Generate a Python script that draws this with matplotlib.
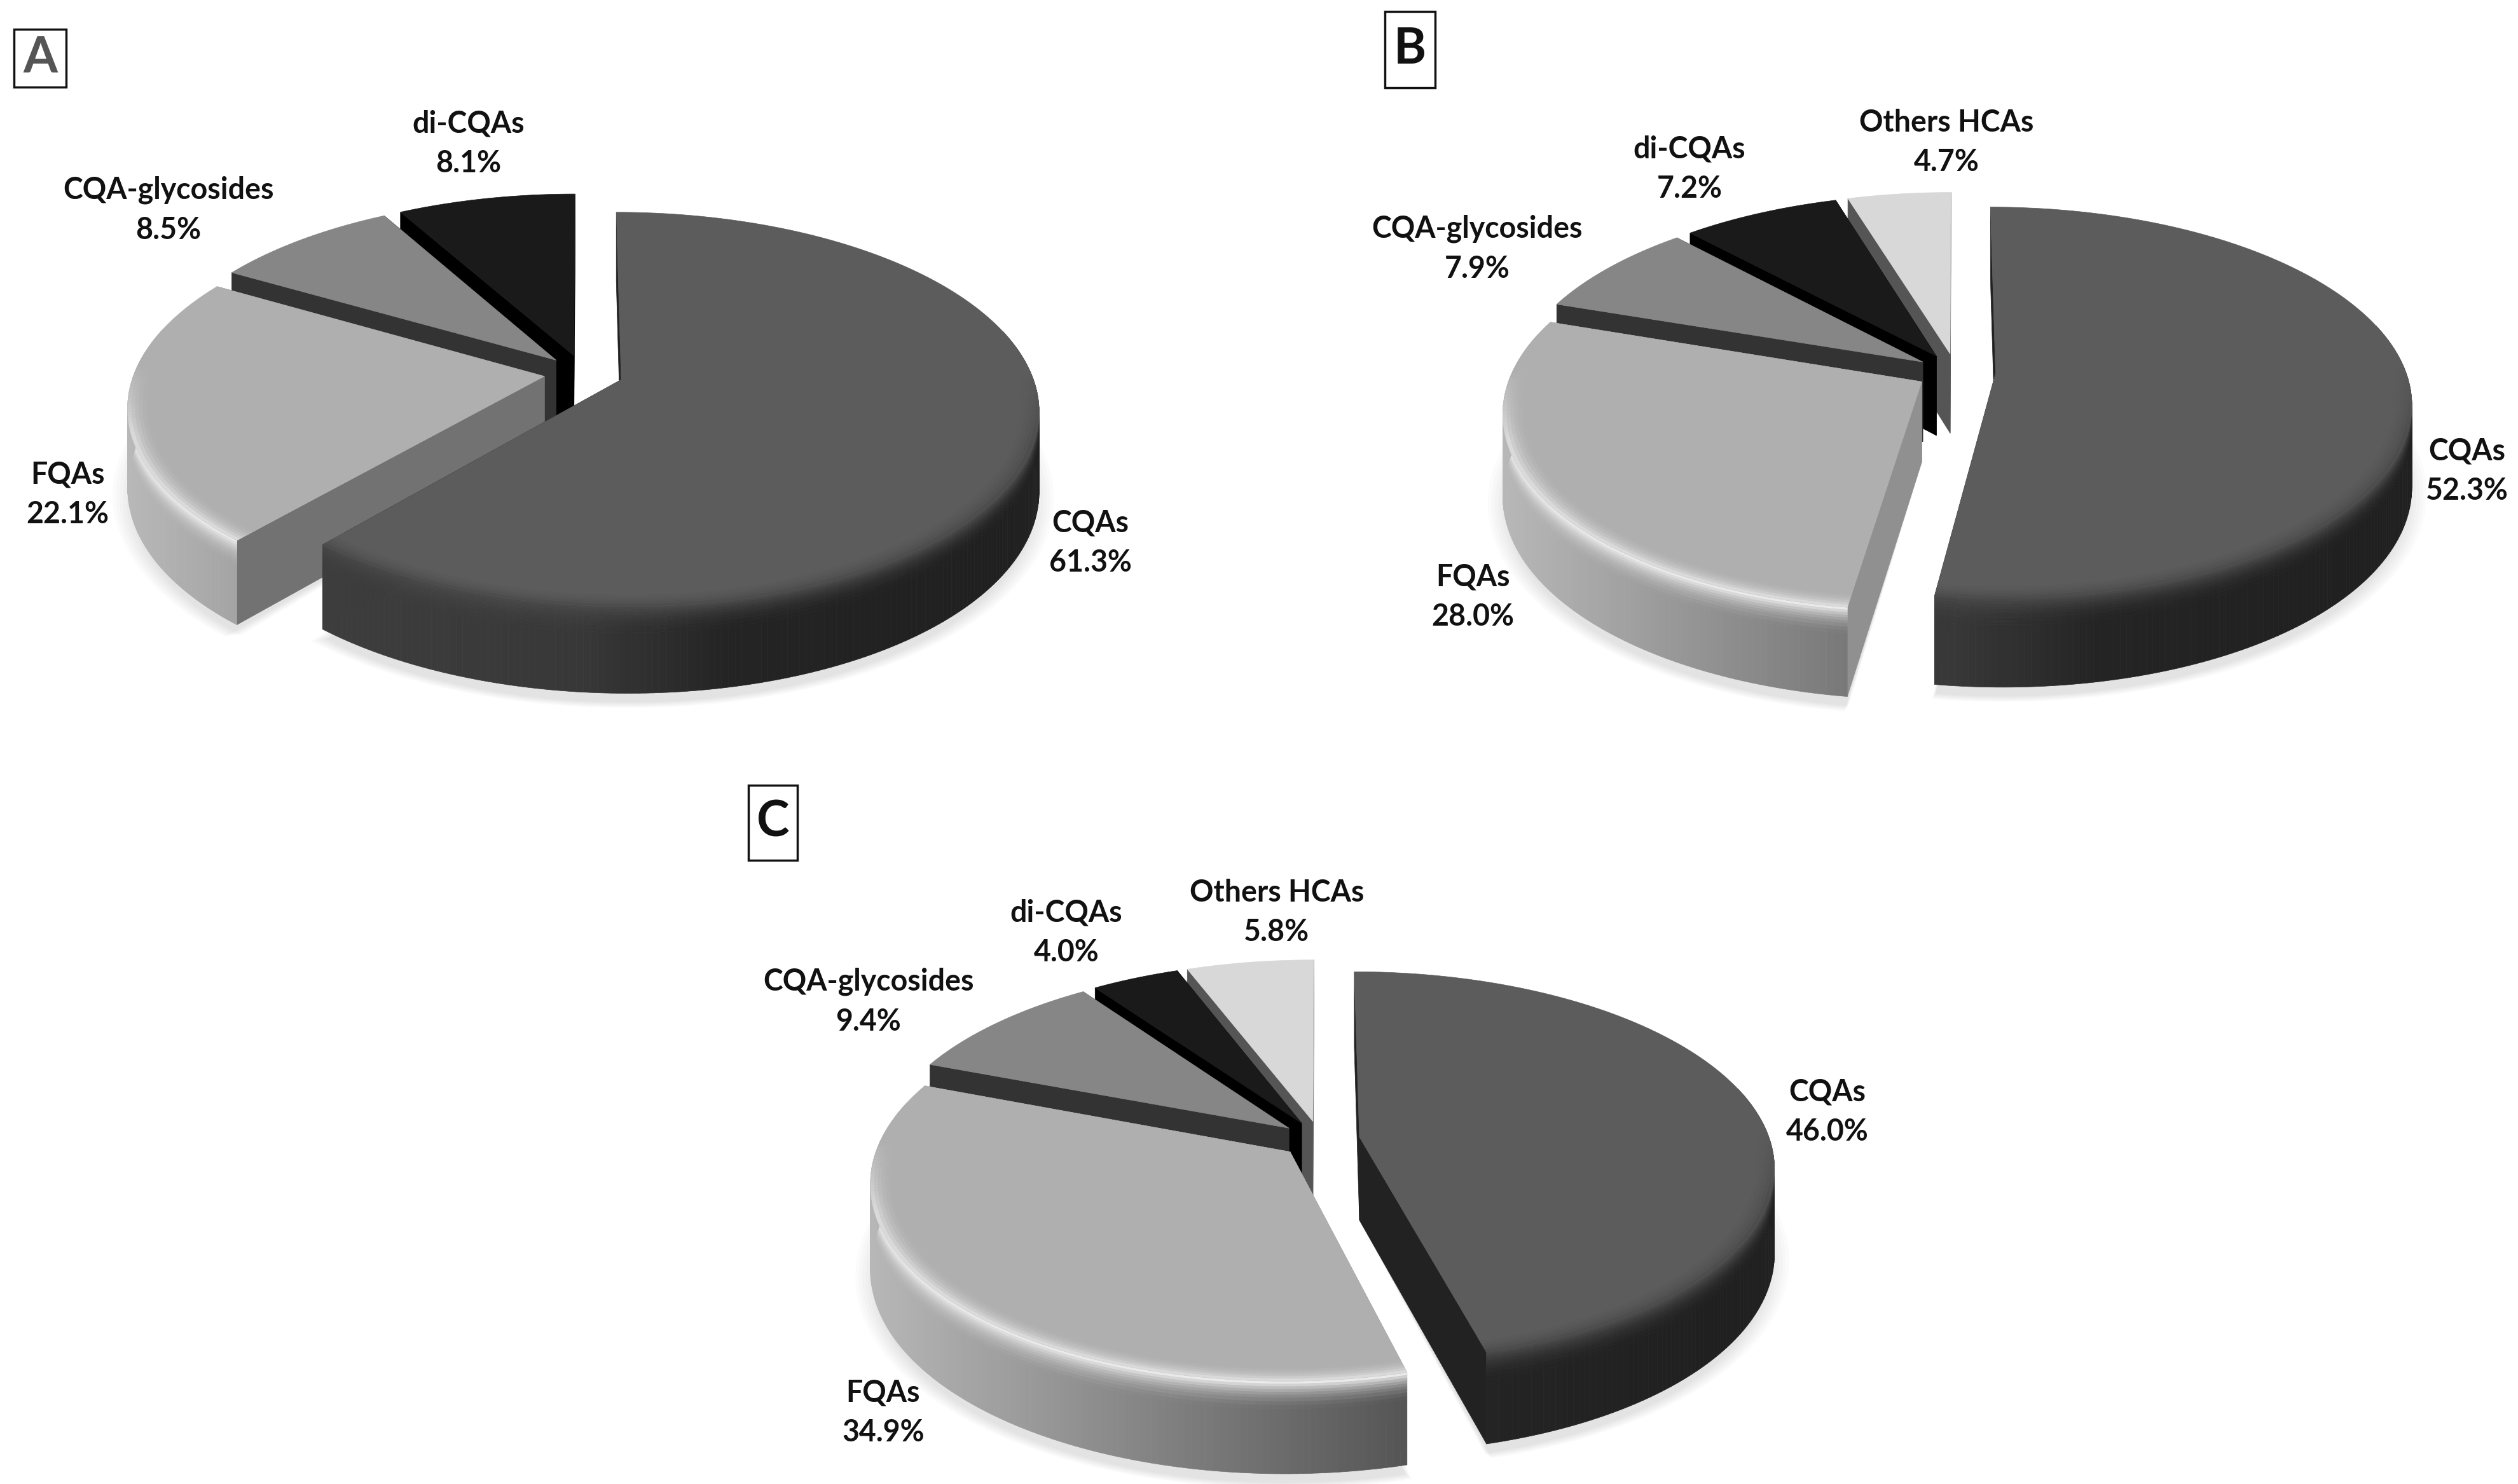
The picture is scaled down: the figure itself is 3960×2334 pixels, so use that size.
import numpy as np
import matplotlib
matplotlib.use("Agg")
import matplotlib.pyplot as plt
from matplotlib.collections import PolyCollection
from matplotlib.patches import Polygon, Rectangle

plt.rcParams['font.family'] = ['Lato', 'DejaVu Sans']

# values
names_a = ["CQAs", "FQAs", "CQA-glycosides", "di-CQAs"]
values_a = [61.3, 22.1, 8.5, 8.1]
names_b = ["CQAs", "FQAs", "CQA-glycosides", "di-CQAs", "Others HCAs"]
values_b = [52.3, 28.0, 7.9, 7.2, 4.7]
names_c = ["CQAs", "FQAs", "CQA-glycosides", "di-CQAs", "Others HCAs"]
values_c = [46.0, 34.9, 9.4, 4.0, 5.8]

# layout in pixels of the picture
label_xy_a = [(1715, 854), (106, 778), (265, 330), (737, 226)]
label_xy_b = [(3880, 741), (2316, 939), (2323, 391), (2657, 266), (3061, 224)]
label_xy_c = [(2874, 1749), (1389, 2222), (1366, 1575), (1677, 1467), (2008, 1435)]

# colours, one grey per slice
top_grey = [0x5c, 0xaf, 0x86, 0x1a, 0xd8]
cut_grey = [0x22, 0x76, 0x33, 0x00, 0x55]
rim_grey = [0x48, 0xea, 0x86, 0x1a, 0xd8]

A, B = 645, 300     # half axes of the pie
K = 0.15            # perspective
EXPLODE = 0.097


def proj(u, v, z, cx, cy, h0):
    w = 1 - K * v
    return cx + A * u / w, cy + B * v / w + z * (h0 + (1 - w) * 93)


def grey(g):
    g = np.clip(np.asarray(g, dtype=float) / 255, 0, 1)
    return np.stack([g, g, g], axis=-1)


def wall_grey(i, x, cx):
    f = (x - (cx - A)) / (2 * A)
    if i == 0:
        return np.interp(f, [0, 0.5, 0.68, 1], [0x40, 0x38, 0x24, 0x20])
    if i == 1:
        return 176 - f * 150
    return np.full_like(x, cut_grey[i], dtype=float)


def draw_shadow(ax, start, end, cx, cy, h0):
    # faint shadow that only peeps out below each slice
    mid = (start + end) / 2
    ou, ov = EXPLODE * np.sin(mid), -EXPLODE * np.cos(mid)
    th = np.linspace(start, end, 80)
    for s in range(7):
        r = 1.035 - s * 0.008
        x, y = proj(ou + r * np.sin(th), ov - r * np.cos(th), 1, cx, cy, h0 + 8 + s * 2)
        xa, ya = proj(ou, ov, 1, cx, cy, h0)
        ax.add_patch(Polygon(np.c_[np.r_[xa, x], np.r_[ya, y]], fc="k", ec="none",
                             alpha=0.014, zorder=1))


def draw_slice(ax, i, start, end, cx, cy, h0, cut):
    mid = (start + end) / 2
    ou, ov = EXPLODE * np.sin(mid), -EXPLODE * np.cos(mid)
    th = np.linspace(start, end, max(8, int((end - start) * 70)))
    u, v = ou + np.sin(th), ov - np.cos(th)

    # the two flat cuts
    for k in [0, -1]:
        ax0, ay0 = proj(ou, ov, 0, cx, cy, h0)
        ax1, ay1 = proj(ou, ov, 1, cx, cy, h0)
        rx0, ry0 = proj(u[k], v[k], 0, cx, cy, h0)
        rx1, ry1 = proj(u[k], v[k], 1, cx, cy, h0)
        ax.add_patch(Polygon([(ax0, ay0), (rx0, ry0), (rx1, ry1), (ax1, ay1)],
                             fc=grey(cut), ec=grey(cut), lw=0.5, zorder=3))

    strength = np.clip((-np.cos(th) + 0.05) / 0.35, 0, 1)

    # outer wall with bevel at the rim
    ts = np.array([0, 0.03, 0.06, 0.09, 0.12, 0.15, 0.18, 0.22, 0.26, 0.30, 1])
    polys, cols = [], []
    for a in range(len(th) - 1):
        if -np.cos(th[a]) < -0.25 and -np.cos(th[a + 1]) < -0.25:
            continue
        for b in range(len(ts) - 1):
            x0, y0 = proj(u[a], v[a], ts[b], cx, cy, h0)
            x1, y1 = proj(u[a + 1], v[a + 1], ts[b], cx, cy, h0)
            x2, y2 = proj(u[a + 1], v[a + 1], ts[b + 1], cx, cy, h0)
            x3, y3 = proj(u[a], v[a], ts[b + 1], cx, cy, h0)
            polys.append([(x0, y0), (x1, y1), (x2, y2), (x3, y3)])
            g = float(wall_grey(i, np.array([x0]), cx)[0])
            bev = max(0, 1 - ts[b] / 0.30) ** 2 * strength[a]
            cols.append(grey(g + (rim_grey[i] - g) * bev))
    if polys:
        ax.add_collection(PolyCollection(polys, facecolors=cols, edgecolors=cols,
                                         linewidths=0.5, zorder=3))

    # top face
    pts = [proj(ou, ov, 0, cx, cy, h0)] + list(zip(*proj(u, v, 0, cx, cy, h0)))
    ax.add_patch(Polygon(pts, fc=grey(top_grey[i]), ec=grey(top_grey[i]), lw=0.5, zorder=3))

    # soft band inside the rim of the top face
    rs = np.linspace(0.94, 1, 8)
    polys, cols = [], []
    for a in range(len(th) - 1):
        if strength[a] <= 0:
            continue
        for b in range(len(rs) - 1):
            q = []
            for ta, r in [(th[a], rs[b]), (th[a + 1], rs[b]), (th[a + 1], rs[b + 1]), (th[a], rs[b + 1])]:
                q.append(proj(ou + r * np.sin(ta), ov - r * np.cos(ta), 0, cx, cy, h0))
            polys.append(q)
            bev = ((rs[b] - 0.94) / 0.06) ** 2 * strength[a]
            cols.append(grey(top_grey[i] + (rim_grey[i] - top_grey[i]) * bev))
    if polys:
        ax.add_collection(PolyCollection(polys, facecolors=cols, edgecolors=cols,
                                         linewidths=0.5, zorder=3))


def draw_pie(ax, names, values, label_xy, cx, cy, h0, cuts):
    vals = np.array(values, dtype=float)
    edges = np.concatenate([[0], np.cumsum(vals) / vals.sum() * 2 * np.pi])

    for i in range(len(vals)):
        draw_shadow(ax, edges[i], edges[i + 1], cx, cy, h0)

    # back to front
    mids = (edges[:-1] + edges[1:]) / 2
    for i in np.argsort(-np.cos(mids)):
        draw_slice(ax, i, edges[i], edges[i + 1], cx, cy, h0, cuts[i])

    for name, val, (x, y) in zip(names, values, label_xy):
        ax.text(x, y, "{}\n{:.1f}%".format(name, val), ha="center", va="center",
                fontsize=33.5, fontweight="bold", color="#111111", linespacing=1.52, zorder=5)


fig = plt.figure(figsize=(39.6, 23.34), dpi=100)
ax = fig.add_axes([0, 0, 1, 1])
ax.set_xlim(0, 3960)
ax.set_ylim(2334, 0)
ax.axis("off")

draw_pie(ax, names_a, values_a, label_xy_a, 918, 587, 122, [0x22, 0x72, 0x33, 0x00])
draw_pie(ax, names_b, values_b, label_xy_b, 3076, 585, 126, [0x22, 0x90, 0x33, 0x00, 0x55])
draw_pie(ax, names_c, values_c, label_xy_c, 2076, 1792, 131, [0x22, 0x90, 0x33, 0x00, 0x55])

# panel letters in boxes
for letter, x0, y0, x1, y1, col in [("A", 22, 46, 104, 137, "#555555"),
                                    ("B", 2178, 18, 2257, 138, "#111111"),
                                    ("C", 1177, 1235, 1254, 1353, "#111111")]:
    ax.add_patch(Rectangle((x0, y0), x1 - x0, y1 - y0, fc="white", ec="#111111", lw=2.5, zorder=4))
    ax.text((x0 + x1) / 2, (y0 + y1) / 2, letter, ha="center", va="center",
            fontsize=56, fontweight="bold", color=col, zorder=5)

fig.savefig("out.png", dpi=100, facecolor="white")
